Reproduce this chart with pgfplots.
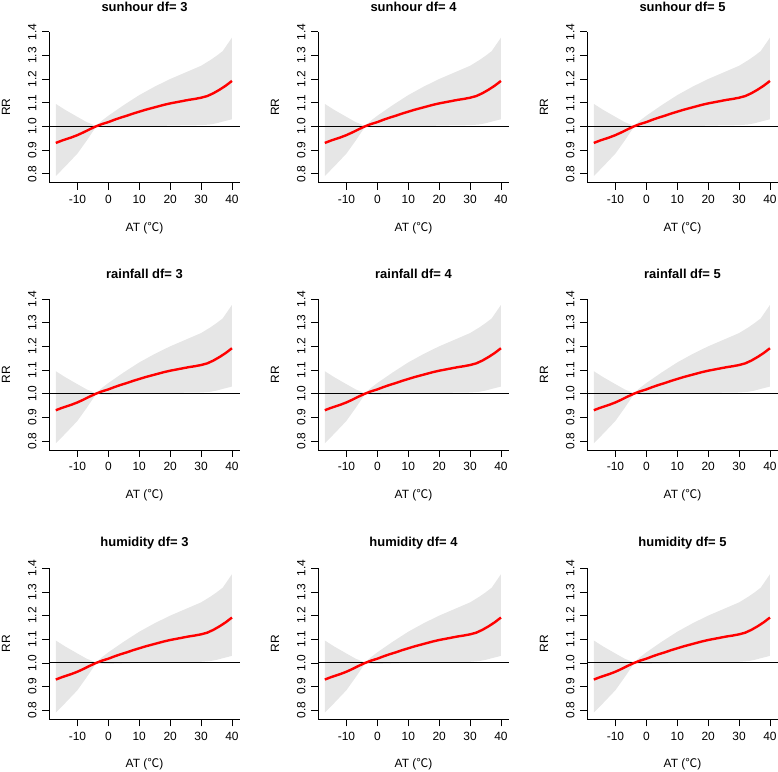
\documentclass[border=0pt]{standalone}
\usepackage{fontspec}
\setmainfont{Liberation Sans}
\newfontfamily\cjk{Noto Sans CJK SC}
\usepackage{pgfplots}
\pgfplotsset{compat=1.18}
\usepgfplotslibrary{fillbetween}
\usepackage{pgfplotstable}

\pgfplotstableread{
x rr
-17 0.930
-15 0.940
-12 0.953
-10 0.963
-8 0.975
-6 0.988
-4 1.000
-2 1.010
0 1.018
2 1.028
4 1.037
6 1.045
8 1.054
10 1.062
12 1.070
14 1.077
16 1.084
18 1.091
20 1.097
22 1.102
24 1.107
26 1.112
28 1.116
30 1.121
32 1.128
34 1.140
36 1.155
38 1.172
40 1.192
}\rrdata

\pgfplotstableread{
x lo hi
-17 0.790 1.095
-14 0.830 1.070
-10 0.885 1.040
-7 0.940 1.018
-4 0.998 1.002
-2 0.997 1.025
0 0.996 1.045
5 0.998 1.090
10 1.000 1.132
15 1.001 1.168
20 1.003 1.200
25 1.004 1.228
30 1.005 1.256
33 1.008 1.280
35 1.013 1.298
37 1.020 1.318
40 1.030 1.375
}\cidata

\definecolor{cifill}{RGB}{230,230,230}

\pgfplotsset{panel/.style={
  width=191bp, height=151bp, scale only axis,
  xmin=-19.2, xmax=42.6, ymin=0.762, ymax=1.4,
  axis x line*=bottom, axis y line*=left,
  axis line style={-, line width=0.8bp, black},
  xtick={-10,0,10,20,30,40}, ytick={0.8,0.9,1.0,1.1,1.2,1.3,1.4},
  minor tick num=0,
  tick align=outside, major tick length=7bp,
  tick style={black, line width=0.8bp},
  /pgf/number format/assume math mode=true,
  ticklabel style={font=\fontsize{12}{14}\selectfont},
  xticklabel style={yshift=-2bp},
  yticklabel style={rotate=90, anchor=south, yshift=2bp,
    /pgf/number format/.cd, fixed, fixed zerofill, precision=1},
  xlabel={AT ({\cjk ℃})}, ylabel={RR},
  label style={font=\fontsize{12}{14}\selectfont},
  xlabel style={at={(axis description cs:0.5,-0.298)}, anchor=center},
  ylabel style={at={(axis description cs:-0.225,0.5)}, anchor=center},
  every axis title shift=0pt,
  title style={at={(axis description cs:0.5,1.166)}, anchor=center,
    font=\fontsize{13}{15}\selectfont\bfseries},
}}

\newcommand{\panel}[3]{%
\begin{axis}[panel, at={(#1bp,#2bp)}, anchor=south west, title={#3}]
\addplot[name path=hi, draw=none] table[x=x,y=hi]{\cidata};
\addplot[name path=lo, draw=none] table[x=x,y=lo]{\cidata};
\addplot[cifill, draw=none] fill between[of=hi and lo];
\addplot[black, line width=1bp] coordinates {(-19.2,1) (42.6,1)};
\addplot[red, line width=2.4bp] table[x=x,y=rr]{\rrdata};
\end{axis}}

\begin{document}
\begin{tikzpicture}
\path (0,0) rectangle (778bp,772bp);
\panel{49}{589.3}{sunhour df= 3}
\panel{318}{589.3}{sunhour df= 4}
\panel{587}{589.3}{sunhour df= 5}
\panel{49}{322}{rainfall df= 3}
\panel{318}{322}{rainfall df= 4}
\panel{587}{322}{rainfall df= 5}
\panel{49}{52.7}{humidity df= 3}
\panel{318}{52.7}{humidity df= 4}
\panel{587}{52.7}{humidity df= 5}
\pgfresetboundingbox
\path[use as bounding box] (0,0) rectangle (778bp,772bp);
\end{tikzpicture}
\end{document}
